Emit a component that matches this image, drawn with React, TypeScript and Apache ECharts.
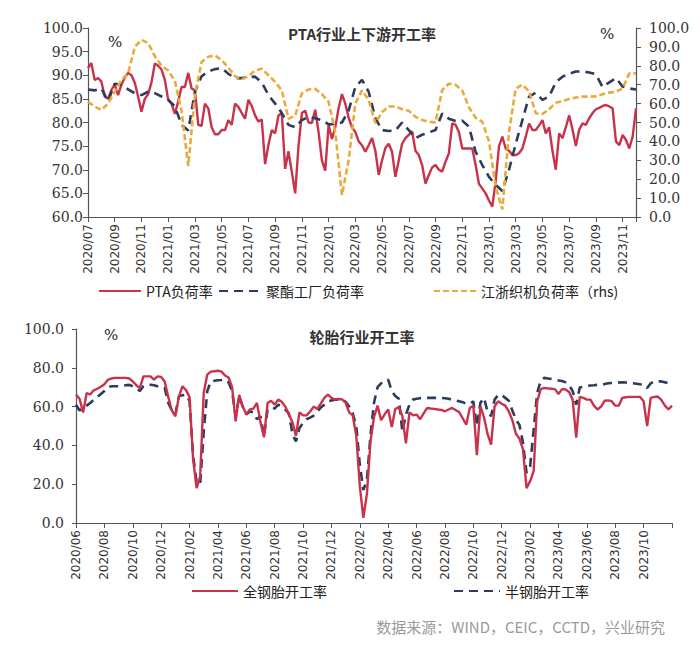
import React, { useEffect, useRef } from "react";
import * as echarts from "echarts";

// ---- Top chart: PTA upstream/downstream operating rates (start 2020/07) ----
const topStartYear = 2020;
const topStartMonth = 7;
const ptaStep = 0.25; // months between points
const ptaLoad = [
  91.5, 92.6, 89.0, 89.4,
  88.7, 85.5, 85.0, 86.9,
  88.0, 85.8, 88.0, 89.5,
  90.5, 90.0, 88.4, 85.5,
  82.3, 85.0, 86.0, 88.5,
  92.5, 92.0, 91.2, 89.0,
  84.8, 84.0, 81.8, 84.5,
  87.5, 87.5, 90.5, 87.2,
  86.8, 79.5, 79.3, 84.0,
  83.0, 79.0, 77.5, 77.5,
  78.4, 78.4, 80.5, 79.5,
  84.0, 83.3, 82.0, 80.8,
  84.8, 83.5, 81.5, 80.2,
  80.6, 71.2, 75.3, 78.4,
  77.7, 81.5, 82.0, 70.2,
  73.9, 69.5, 65.0, 75.0,
  82.0, 82.5, 80.0, 79.9,
  82.7, 78.0, 72.0, 69.8,
  79.5, 76.5, 79.0, 83.0,
  86.0, 84.0, 81.0, 79.0,
  78.0, 76.0, 75.2, 73.8,
  75.2, 76.7, 74.0, 68.9,
  72.0, 74.6, 75.5, 73.8,
  68.5, 72.0, 75.5, 76.7,
  77.4, 78.1, 74.0, 73.1,
  71.0, 67.1, 68.9, 70.5,
  71.0, 70.0, 69.6, 71.7,
  73.5, 79.8, 79.5, 78.0,
  74.5, 74.5, 74.5, 74.5,
  71.0, 67.0, 66.0, 65.0,
  63.5, 62.2, 67.6, 75.0,
  77.0, 74.5, 74.0, 73.1,
  73.1, 73.5, 74.5, 77.0,
  79.8, 78.4, 78.4, 79.4,
  80.5, 77.7, 79.0, 74.0,
  70.0, 77.7, 76.7, 79.0,
  81.5, 78.5, 75.0, 78.5,
  79.8, 79.5, 80.9, 82.0,
  82.8, 83.1, 83.5, 83.7,
  83.4, 83.0, 76.0, 75.2,
  77.4, 76.3, 74.5, 77.0,
  83.0,
];
const polyesterStep = 0.5;
const polyesterLoad = [
  87.0, 86.8, 87.2, 84.5, 88.2, 88.0, 87.0, 86.2, 85.8, 86.5,
  86.2, 85.5, 84.8, 83.4, 79.5, 78.3, 86.5, 89.8, 90.8, 91.3,
  91.5, 90.3, 89.4, 89.4, 89.6, 89.7, 88.5, 85.8, 84.0, 82.0,
  79.5, 79.0, 80.5, 81.2, 80.9, 80.5, 79.6, 79.7, 80.0, 82.5,
  87.5, 89.0, 86.5, 80.9, 78.4, 78.2, 78.3, 80.0, 78.4, 76.7,
  77.4, 77.9, 78.4, 81.9, 80.8, 80.3, 80.4, 79.1, 73.8, 71.0,
  68.5, 66.8, 65.5, 70.0, 75.5, 80.5, 85.5, 86.3, 84.8, 85.5,
  88.5, 89.7, 90.3, 90.8, 90.8, 90.6, 90.2, 87.5, 88.5, 89.4,
  87.6, 87.2, 87.0,
];
const jiangzheStep = 0.5;
const jiangzheLoad = [
  61.0, 58.4, 56.6, 60.0, 66.3, 72.5, 76.0, 90.0, 93.7, 92.0,
  85.0, 80.0, 77.5, 72.0, 56.0, 27.0, 64.5, 82.0, 84.8, 85.5,
  83.0, 79.0, 74.5, 72.8, 74.5, 77.5, 78.5, 75.0, 71.5, 67.0,
  52.0, 53.5, 65.4, 67.5, 67.8, 65.0, 61.0, 45.0, 11.6, 30.0,
  60.0, 67.0, 62.0, 49.6, 55.5, 58.5, 58.5, 57.0, 56.2, 53.0,
  51.3, 50.4, 50.0, 67.2, 70.5, 70.0, 67.0, 58.0, 52.5, 50.4,
  40.0, 16.0, 4.0, 45.0, 68.0, 70.0, 66.5, 54.9, 54.5, 57.0,
  60.5, 61.2, 62.5, 63.2, 63.7, 63.7, 63.8, 65.0, 65.8, 66.3,
  68.0, 76.0, 76.0,
];

// ---- Bottom chart: tyre operating rates (start 2020/06) ----
const bottomStartYear = 2020;
const bottomStartMonth = 6;
const tyreStep = 0.25;
const fullSteel = [
  66.2, 64.0, 57.0, 67.0,
  66.2, 68.4, 69.2, 70.2,
  71.5, 73.8, 74.5, 74.8,
  74.8, 74.8, 74.8, 74.5,
  73.0, 71.0, 69.5, 75.6,
  75.6, 75.6, 73.9, 75.6,
  75.3, 73.0, 65.0, 58.0,
  55.0, 65.0, 70.5, 68.5,
  65.0, 33.0, 18.0, 24.0,
  67.0, 76.5, 78.0, 78.2,
  78.5, 78.0, 76.0, 75.0,
  70.0, 52.4, 66.0, 60.0,
  56.0, 58.5, 59.0, 61.9,
  52.0, 44.2, 61.9, 63.0,
  61.0, 63.6, 62.5, 60.0,
  55.9, 52.0, 45.0, 57.0,
  55.5, 55.5, 57.5, 60.0,
  58.8, 61.5, 64.5, 66.2,
  64.5, 63.6, 63.9, 63.7,
  62.0, 57.0, 55.5, 45.0,
  19.0, 2.7, 15.0, 42.0,
  54.5, 60.5, 53.0, 56.0,
  58.5, 49.5, 58.8, 59.8,
  55.0, 41.0, 57.0, 55.5,
  55.9, 53.5, 56.5, 59.3,
  59.0, 58.8, 58.5, 58.3,
  57.6, 58.5, 59.3, 58.2,
  57.2, 54.0, 50.7, 59.3,
  60.5, 35.0, 60.2, 54.5,
  46.0, 40.4, 60.2, 62.7,
  61.5, 60.5, 57.5, 53.0,
  46.0, 43.5, 38.0, 18.0,
  21.5, 26.7, 62.7, 69.0,
  69.6, 69.4, 69.2, 69.0,
  66.5, 69.0, 68.8, 67.5,
  63.6, 44.0, 65.0, 64.5,
  63.6, 63.6, 60.5, 58.5,
  60.0, 63.0, 63.2, 62.8,
  60.5, 60.5, 64.5, 64.8,
  65.0, 65.0, 65.0, 65.0,
  62.7, 49.9, 64.5, 65.0,
  65.2, 63.5, 60.5, 58.5,
  60.5,
];
const semiSteel = [
  61.0, 58.0, 59.0, 60.5,
  61.9, 63.5, 65.0, 66.5,
  68.0, 70.0, 70.5, 70.5,
  70.5, 70.8, 71.0, 71.2,
  70.5, 69.5, 68.0, 70.5,
  71.3, 71.3, 71.0, 70.5,
  70.5, 69.6, 62.0, 58.0,
  55.9, 65.3, 65.8, 66.2,
  63.0, 35.0, 21.0, 20.0,
  47.0, 68.0, 73.0, 73.3,
  73.6, 73.7, 73.9, 72.5,
  68.0, 55.0, 65.3, 60.0,
  55.9, 57.5, 57.0, 53.5,
  55.0, 44.7, 58.5, 59.5,
  59.0, 61.0, 60.0, 58.5,
  56.5, 46.0, 42.0, 49.0,
  51.5, 53.5, 54.3, 55.3,
  57.5, 59.5, 61.0, 62.7,
  63.2, 63.6, 63.6, 63.6,
  62.5, 60.0, 56.5, 50.0,
  30.0, 17.0, 22.0, 45.0,
  62.0, 70.0, 72.0, 73.0,
  73.9, 68.0, 65.5, 64.0,
  47.0, 56.0, 61.0, 63.6,
  64.0, 64.3, 64.5, 64.5,
  64.5, 64.5, 64.5, 64.5,
  64.3, 64.0, 63.6, 63.2,
  62.8, 62.3, 61.5, 61.5,
  62.7, 50.0, 62.0, 64.5,
  57.5, 55.0, 63.6, 66.0,
  66.0, 64.5, 63.0, 58.0,
  53.3, 50.5, 41.3, 25.8,
  29.0, 48.0, 67.0, 73.5,
  74.8, 74.5, 74.2, 73.8,
  73.5, 73.2, 72.5, 71.2,
  68.0, 61.0, 69.8, 70.3,
  70.7, 70.9, 71.0, 71.2,
  71.3, 71.6, 72.0, 72.2,
  72.3, 72.4, 72.5, 72.4,
  72.2, 72.0, 71.8, 71.5,
  71.3, 69.6, 72.0, 73.0,
  73.0, 73.0, 72.5, 72.2,
  73.0,
];

const topNames = ["PTA负荷率", "聚酯工厂负荷率", "江浙织机负荷率（rhs)"];
const bottomNames = ["全钢胎开工率", "半钢胎开工率"];

const RED = "#C8324B";
const NAVY = "#2D3C5A";
const ORANGE = "#EBAA3C";
const AXIS = "#555";
const TXT = "#333";

const toPairs = (vals: number[], step: number) => vals.map((v, i) => [i * step, v]);

const monthFmt = (y0: number, m0: number, lastShown: number) => (v: number) => {
  const r = Math.round(v);
  if (Math.abs(v - r) > 1e-6 || r % 2 !== 0 || r > lastShown) return "";
  const total = y0 * 12 + (m0 - 1) + r;
  const y = Math.floor(total / 12);
  const m = (total % 12) + 1;
  return `${y}/${m < 10 ? "0" + m : m}`;
};

const yLabel = {
  fontFamily: "DejaVu Serif",
  fontSize: 14,
  color: TXT,
  formatter: (v: number) => v.toFixed(1),
};

const xLabelBase = {
  rotate: 90,
  fontFamily: "DejaVu Sans",
  fontSize: 12,
  color: TXT,
  margin: 7,
};

const legendText = { fontFamily: "Noto Sans CJK SC", fontSize: 14, color: "#222" };
const legendBase = {
  itemHeight: 14,
  textStyle: legendText,
  itemStyle: { opacity: 0, borderWidth: 0 },
};

export default function App() {
  const ref = useRef<HTMLDivElement>(null);
  useEffect(() => {
    if (!ref.current) return;
    const chart = echarts.init(ref.current, null, { renderer: "svg" });
    const option: any = {
      animation: false,
      backgroundColor: "#fff",
      grid: [
        { left: 88, top: 28, width: 548, height: 189 },
        { left: 76, top: 329, width: 596, height: 194 },
      ],
      xAxis: [
        {
          gridIndex: 0,
          type: "value",
          min: 0,
          max: 41,
          interval: 2,
          axisLine: { show: true, lineStyle: { color: AXIS, width: 1.2 } },
          axisTick: { show: true, length: 5, lineStyle: { color: AXIS } },
          splitLine: { show: false },
          axisLabel: { ...xLabelBase, formatter: monthFmt(topStartYear, topStartMonth, 40) },
        },
        {
          gridIndex: 1,
          type: "value",
          min: 0,
          max: 42,
          interval: 2,
          axisLine: { show: true, lineStyle: { color: AXIS, width: 1.2 } },
          axisTick: { show: true, length: 5, lineStyle: { color: AXIS } },
          splitLine: { show: false },
          axisLabel: { ...xLabelBase, formatter: monthFmt(bottomStartYear, bottomStartMonth, 40) },
        },
      ],
      yAxis: [
        {
          gridIndex: 0,
          type: "value",
          min: 60,
          max: 100,
          interval: 5,
          axisLine: { show: true, lineStyle: { color: AXIS, width: 1.2 } },
          axisTick: { show: true, length: 5, lineStyle: { color: AXIS } },
          splitLine: { show: false },
          axisLabel: { ...yLabel, margin: 5 },
        },
        {
          gridIndex: 0,
          type: "value",
          position: "right",
          min: 0,
          max: 100,
          interval: 10,
          axisLine: { show: true, lineStyle: { color: AXIS, width: 1.2 } },
          axisTick: { show: true, length: 5, lineStyle: { color: AXIS } },
          splitLine: { show: false },
          axisLabel: { ...yLabel, margin: 13 },
        },
        {
          gridIndex: 1,
          type: "value",
          min: 0,
          max: 100,
          interval: 20,
          axisLine: { show: true, lineStyle: { color: AXIS, width: 1.2 } },
          axisTick: { show: true, length: 4, lineStyle: { color: AXIS } },
          splitLine: { show: false },
          axisLabel: { ...yLabel, margin: 12 },
        },
      ],
      legend: [
        { ...legendBase, data: [topNames[0]], left: 93, top: 279, itemWidth: 42 },
        { ...legendBase, data: [topNames[1]], left: 213, top: 279, itemWidth: 42 },
        { ...legendBase, data: [topNames[2]], left: 428, top: 279, itemWidth: 42 },
        { ...legendBase, data: [bottomNames[0]], left: 186, top: 579, itemWidth: 46 },
        { ...legendBase, data: [bottomNames[1]], left: 448, top: 579, itemWidth: 46 },
      ],
      graphic: [
        {
          type: "text",
          x: 362,
          y: 33,
          style: {
            text: "PTA行业上下游开工率",
            font: 'bold 15px "Noto Sans CJK SC"',
            fill: "#333",
            textAlign: "center",
            textVerticalAlign: "middle",
            align: "center",
            verticalAlign: "middle",
          },
        },
        {
          type: "text",
          x: 362,
          y: 336,
          style: {
            text: "轮胎行业开工率",
            font: 'bold 15px "Noto Sans CJK SC"',
            fill: "#333",
            textAlign: "center",
            textVerticalAlign: "middle",
            align: "center",
            verticalAlign: "middle",
          },
        },
        {
          type: "text",
          x: 108,
          y: 34,
          style: { text: "%", font: '15px "DejaVu Serif"', fill: "#222" },
        },
        {
          type: "text",
          x: 600,
          y: 26,
          style: { text: "%", font: '15px "DejaVu Serif"', fill: "#222" },
        },
        {
          type: "text",
          x: 104,
          y: 327,
          style: { text: "%", font: '15px "DejaVu Serif"', fill: "#222" },
        },
        {
          type: "text",
          x: 665,
          y: 626,
          style: {
            text: "数据来源：WIND，CEIC，CCTD，兴业研究",
            font: '15px "Noto Sans CJK SC"',
            fill: "#9a9a9a",
            textAlign: "right",
            textVerticalAlign: "middle",
            align: "right",
            verticalAlign: "middle",
          },
        },
      ],
      series: [
        {
          name: topNames[0],
          type: "line",
          xAxisIndex: 0,
          yAxisIndex: 0,
          data: toPairs(ptaLoad, ptaStep),
          showSymbol: false,
          symbol: "none",
          lineStyle: { color: RED, width: 2.4 },
          itemStyle: { color: RED },
        },
        {
          name: topNames[1],
          type: "line",
          xAxisIndex: 0,
          yAxisIndex: 0,
          data: toPairs(polyesterLoad, polyesterStep),
          showSymbol: false,
          symbol: "none",
          lineStyle: { color: NAVY, width: 2.6, type: [9, 6] },
          itemStyle: { color: NAVY },
        },
        {
          name: topNames[2],
          type: "line",
          xAxisIndex: 0,
          yAxisIndex: 1,
          data: toPairs(jiangzheLoad, jiangzheStep),
          showSymbol: false,
          symbol: "none",
          lineStyle: { color: ORANGE, width: 2.6, type: [6, 3] },
          itemStyle: { color: ORANGE },
        },
        {
          name: bottomNames[1],
          type: "line",
          xAxisIndex: 1,
          yAxisIndex: 2,
          data: toPairs(semiSteel, tyreStep),
          showSymbol: false,
          symbol: "none",
          lineStyle: { color: NAVY, width: 2.6, type: [9, 6] },
          itemStyle: { color: NAVY },
        },
        {
          name: bottomNames[0],
          type: "line",
          xAxisIndex: 1,
          yAxisIndex: 2,
          data: toPairs(fullSteel, tyreStep),
          showSymbol: false,
          symbol: "none",
          lineStyle: { color: RED, width: 2.4 },
          itemStyle: { color: RED },
        },
      ],
    };
    chart.setOption(option);
    return () => chart.dispose();
  }, []);
  return (
    <div
      ref={ref}
      style={{ position: "absolute", left: 0, top: 0, width: 700, height: 646, background: "#fff" }}
    />
  );
}
